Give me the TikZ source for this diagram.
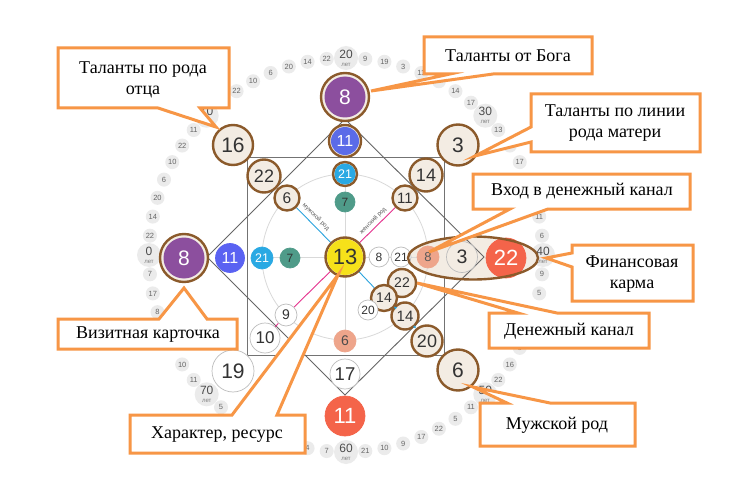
\documentclass[tikz,border=0pt]{standalone}
\usepackage{fontspec}
\setmainfont{Liberation Serif}
\newfontfamily\numfont{Liberation Sans}
\usetikzlibrary{arrows.meta,shapes.geometric}
\definecolor{corange}{HTML}{F79646}
\definecolor{rbrown}{HTML}{8B5A2B}
\definecolor{cream}{HTML}{F3ECE3}
\definecolor{cpurple}{HTML}{8C4F9E}
\definecolor{cblue}{HTML}{5B6BE8}
\definecolor{cblueL}{HTML}{5A62F2}
\definecolor{clblue}{HTML}{2AA9E3}
\definecolor{cteal}{HTML}{4F9B89}
\definecolor{cyellow}{HTML}{F6E11A}
\definecolor{csalmon}{HTML}{EEA58B}
\definecolor{cred}{HTML}{F4644A}
\definecolor{cpink}{HTML}{E5318D}
\definecolor{cline}{HTML}{29A3DD}
\definecolor{ptfill}{HTML}{EBEBEB}
\definecolor{darktext}{HTML}{333333}
\definecolor{thin}{HTML}{BDBDBD}
\tikzset{
  ringo/.style={circle, inner sep=0pt, fill=cream, draw=rbrown, line width=2.4pt},
  disk/.style={circle, inner sep=0pt},
  agept/.style={circle, inner sep=0pt, minimum size=14pt, fill=ptfill, text=black!60, font=\numfont\fontsize{7.5}{7.5}\selectfont},
  agemaj/.style={circle, inner sep=0pt, minimum size=24pt, fill=ptfill, text=black!70, align=center, font=\numfont\fontsize{12}{10}\selectfont},
  callout/.style={draw=corange, line width=3pt, fill=white, line join=miter},
  ctext/.style={font=\fontsize{18}{21}\selectfont, align=center, inner sep=0pt},
  grayline/.style={draw=black!55, line width=1pt},
  faint/.style={draw=black!15, line width=0.8pt},
  linetext/.style={font=\numfont\fontsize{6}{6}\selectfont, text=black!65, inner sep=0pt},
  finshape/.style={ellipse, minimum width=130pt, minimum height=43pt, inner sep=0pt}
}
\newcommand\RingC[8]{%
  \node[ringo, minimum size=#3pt] (#1o) at (#2) {};
  \node[disk, minimum size=#4pt, fill=#5, text=#6, font=\numfont\fontsize{#7}{#7}\selectfont] (#1) at (#2) {#8};}
\newcommand\PlainC[8]{%
  \node[disk, minimum size=#3pt, fill=#4, draw=#5, line width=0.7pt, text=#6, font=\numfont\fontsize{#7}{#7}\selectfont] (#1) at (#2) {#8};}
\begin{document}
\begin{tikzpicture}[x=1pt,y=-1pt]
\useasboundingbox (0,0) rectangle (739,484);
\fill[white] (0,0) rectangle (739,484);
% age ring
\foreach \j/\v in {1/22,2/14,3/20,4/6,5/10,6/22,7/11,10/22,11/10,12/6,13/20,14/14,15/22,17/9,18/19,19/3,20/11,21/7,22/14,23/17,25/13,26/18,27/17,30/11,31/6,33/9,34/5,37/6,38/16,39/22,41/11,42/5,43/22,44/17,45/9,46/10,47/21,49/7,50/4,55/5,57/11,58/10,61/8,62/17,63/7}
  \node[agept] (p\j) at ({346+197*cos(180-\j*5.625)},{255-197*sin(180-\j*5.625)}) {\v};
\foreach \j/\v in {0/0,8/10,16/20,24/30,32/40,40/50,48/60,56/70}
  \node[agemaj] (a\j) at ({346+197*cos(180-\j*5.625)},{255-197*sin(180-\j*5.625)}) {\v\\[-2pt]{\fontsize{6}{6}\selectfont\color{black!50}лет}};
% frame
\draw[grayline] (247,158) rectangle (444,355);
\node[finshape, fill=cream] (finbg) at (473,258) {};
\draw[grayline, draw=black!60, line width=0.9pt] (345,119) -- (484,257) -- (345,395) -- (207,257) -- cycle;
\draw[faint] (345,257) circle (83);
\draw[faint] (262,257) -- (428,257);
\draw[faint] (345,174) -- (345,341);
% circles
\RingC{top8}{345,97}{48}{41}{cpurple}{white}{21}{8}
\RingC{left8}{184,258}{48}{41}{cpurple}{white}{21}{8}
\RingC{top11}{345,141}{32}{28}{cblue}{white}{16}{11}
\RingC{top21}{345,174}{24}{21}{clblue}{white}{12.5}{21}
\RingC{c16}{233,145}{40}{36}{cream}{darktext}{21}{16}
\RingC{c3}{458,145}{41}{37}{cream}{darktext}{21}{3}
\RingC{c6}{458,370}{41}{37}{cream}{darktext}{21}{6}
\RingC{c22}{264,176}{33}{29}{cream}{darktext}{18}{22}
\RingC{c14}{426,175}{33}{29}{cream}{darktext}{18}{14}
\RingC{c20}{427,341}{31}{27}{cream}{darktext}{18}{20}
\RingC{s6}{287,198}{25}{21}{cream}{darktext}{15.5}{6}
\RingC{s11}{405,198}{25}{21}{cream}{darktext}{15}{11}
\RingC{s14}{405,316}{27}{23}{cream}{darktext}{15}{14}
\RingC{m22}{402,283}{28}{24}{cream}{darktext}{14}{22}
\RingC{m14}{384,298}{26}{22}{cream}{darktext}{14}{14}
\PlainC{right22}{506,258}{40}{cred}{cred}{white}{22}{22}
\PlainC{bot11}{345,416}{40}{cred}{cred}{white}{22}{11}
\PlainC{left11}{230,258}{29}{cblueL}{cblueL}{white}{16}{11}
\PlainC{left21}{262,258}{22}{clblue}{clblue}{white}{12.5}{21}
\PlainC{top7}{345,202}{20}{cteal}{cteal}{darktext}{12}{7}
\PlainC{left7}{290,258}{20}{cteal}{cteal}{darktext}{12}{7}
\PlainC{r8}{428,257}{22}{csalmon}{csalmon}{black!65}{13}{8}
\PlainC{b6}{345,341}{22}{csalmon}{csalmon}{black!70}{14}{6}
\PlainC{r3}{462,257}{31}{cream}{thin}{darktext}{19.5}{3}
\PlainC{b17}{345,374}{30}{white}{thin}{darktext}{18.5}{17}
\PlainC{w8}{379,257}{20}{white}{thin}{darktext}{12}{8}
\PlainC{w21}{401,257}{20}{white}{thin}{darktext}{12}{21}
\PlainC{w20}{368,310}{20}{white}{thin}{darktext}{12}{20}
\PlainC{bl9}{286,315}{22}{white}{thin}{darktext}{14}{9}
\PlainC{bl10}{265,338}{30}{white}{thin}{darktext}{17}{10}
\PlainC{bl19}{233,371}{42}{white}{thin}{darktext}{21}{19}
% coloured lines
\draw[cline, line width=0.9pt] (s6o) -- (345,257);
\draw[cpink, line width=0.9pt] (s11o) -- (345,257);
\draw[cpink, line width=0.9pt] (345,257) -- (bl9);
\draw[cpink, line width=0.9pt] (bl9) -- (bl10);
\draw[cline, line width=0.9pt] (345,257) -- (m14o);
\draw[cline, line width=0.9pt, -{Latex[length=3pt,width=3pt]}] (m14o) -- (s14o);
\draw[cline, line width=0.9pt, -{Latex[length=3pt,width=3pt]}] (s14o) -- (c20o);
\RingC{ctr}{345,257}{39}{36}{cyellow}{darktext}{22}{13}
\node[linetext, rotate=-45] (tm) at (316,217) {мужской род};
\node[linetext, rotate=45] (tw) at (373,221) {женский род};
% ellipse outline
\node[finshape, draw=rbrown, line width=2.4pt] (fin) at (473,258) {};
% callouts
\draw[callout] (58,48) -- (229,48) -- (229,108) -- (200,108) -- (216,127) -- (158,108) -- (58,108) -- cycle;
\node[ctext] (tA) at (143,80) {Таланты по рода\\отца};
\draw[callout] (424,37) -- (592,37) -- (592,74) -- (493,74) -- (371,91) -- (450,74) -- (424,74) -- cycle;
\node[ctext] (tB) at (508,56) {Таланты от Бога};
\draw[callout] (531,94) -- (700,94) -- (700,152) -- (531,152) -- (531,142) -- (475,156) -- (531,127) -- cycle;
\node[ctext] (tC) at (615,123) {Таланты по линии\\рода матери};
\draw[callout] (473,174) -- (690,174) -- (690,209) -- (548,209) -- (429,252) -- (510,209) -- (473,209) -- cycle;
\node[ctext] (tD) at (582,191) {Вход в денежный канал};
\draw[callout] (572,245) -- (693,245) -- (693,301) -- (572,301) -- (572,267) -- (546,258) -- (572,253) -- cycle;
\node[ctext] (tE) at (632,274) {Финансовая\\карма};
\draw[callout] (489,313) -- (518,313) -- (417,283) -- (557,313) -- (649,313) -- (649,348) -- (489,348) -- cycle;
\node[ctext] (tF) at (569,331) {Денежный канал};
\draw[callout] (480,403) -- (507,403) -- (473,387) -- (550,403) -- (635,403) -- (635,446) -- (480,446) -- cycle;
\node[ctext] (tG) at (557,425) {Мужской род};
\draw[callout] (58,319) -- (159,319) -- (184,288) -- (207,319) -- (237,319) -- (237,349) -- (58,349) -- cycle;
\node[ctext] (tH) at (148,335) {Визитная карточка};
\draw[callout] (130,415) -- (232,415) -- (338,275) -- (277,415) -- (305,415) -- (305,453) -- (130,453) -- cycle;
\node[ctext] (tI) at (217,435) {Характер, ресурс};
\end{tikzpicture}
\end{document}
